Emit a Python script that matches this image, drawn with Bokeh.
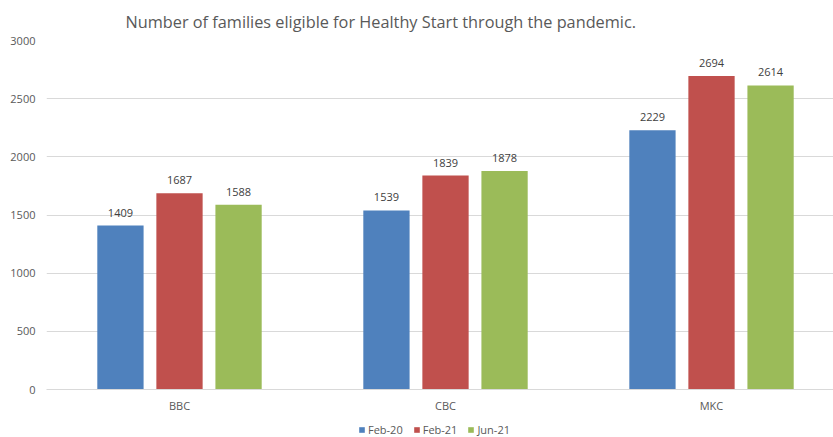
from bokeh.plotting import figure
from bokeh.layouts import column
from bokeh.models import Range1d, FixedTicker, Legend, LegendItem, ColumnDataSource
from bokeh.transform import dodge
from bokeh.embed import file_html
from bokeh.resources import INLINE
from bokeh.core.properties import value

regions = ["BBC", "CBC", "MKC"]
series = ["Feb-20", "Feb-21", "Jun-21"]
feb20 = [1409, 1539, 2229]
feb21 = [1687, 1839, 2694]
jun21 = [1588, 1878, 2614]
colors = ["#4F81BD", "#C0504D", "#9BBB59"]
y_ticks = [0, 500, 1000, 1500, 2000, 2500, 3000]

FONT = "Open Sans"
GREY = "#595959"

xs = list(range(len(regions)))
data = dict(x=xs)
for key, vals in (("s0", feb20), ("s1", feb21), ("s2", jun21)):
    data[key] = vals
    data[key + "_t"] = [str(v) for v in vals]
src = ColumnDataSource(data)

p = figure(width=833, height=423, output_backend="svg", toolbar_location=None,
           x_range=Range1d(-0.5, 2.4586), y_range=Range1d(0, 3000),
           min_border_left=46, min_border_right=0, min_border_top=40, min_border_bottom=34)
p.outline_line_color = None

p.title.text = "Number of families eligible for Healthy Start through the pandemic."
p.title.align = "left"
p.title.offset = 79
p.title.standoff = 16
p.title.text_font = FONT
p.title.text_font_size = "16.3px"
p.title.text_font_style = "normal"
p.title.text_color = GREY

offsets = [-0.222, 0.0, 0.222]
keys = ["s0", "s1", "s2"]
for i, key in enumerate(keys):
    p.vbar(x=dodge("x", offsets[i]), top=key, width=0.174, source=src,
           fill_color=colors[i], line_color=None)
    p.text(x=dodge("x", offsets[i]), y=key, text=key + "_t", source=src,
           text_align="center", text_baseline="bottom", y_offset=-9,
           text_font=value(FONT), text_font_size="11px", text_color="#404040")

p.xgrid.grid_line_color = None
p.ygrid.grid_line_color = "#D9D9D9"
p.ygrid.ticker = FixedTicker(ticks=y_ticks)

for ax in (p.xaxis[0], p.yaxis[0]):
    ax.major_tick_line_color = None
    ax.minor_tick_line_color = None
    ax.major_tick_out = 0
    ax.major_tick_in = 0
    ax.minor_tick_out = 0
    ax.minor_tick_in = 0
    ax.major_label_text_font = FONT
    ax.major_label_text_font_size = "11px"
    ax.major_label_text_color = GREY

p.yaxis.ticker = FixedTicker(ticks=y_ticks)
p.yaxis.axis_line_color = None
p.yaxis.major_label_standoff = 11

p.xaxis.ticker = FixedTicker(ticks=xs)
p.xaxis.major_label_overrides = {i: regions[i] for i in xs}
p.xaxis.axis_line_color = "#D9D9D9"
p.xaxis.major_label_standoff = 8

# legend strip below the chart (its renderers are hidden; only the swatches show)
lg = figure(width=833, height=14, output_backend="svg", toolbar_location=None,
            x_axis_location=None, y_axis_location=None,
            x_range=Range1d(0, 1), y_range=Range1d(0, 1), min_border=0)
lg.outline_line_color = None
lg.grid.grid_line_color = None
items = []
for i, name in enumerate(series):
    rr = lg.vbar(x=dodge("x", offsets[i]), top=keys[i], width=0.174, source=src,
                 fill_color=colors[i], line_color=None, visible=False)
    items.append(LegendItem(label=name, renderers=[rr]))
legend = Legend(items=items, orientation="horizontal", location=(312, 0),
                click_policy="none",
                label_text_font=FONT, label_text_font_size="11px", label_text_color=GREY,
                glyph_width=7, glyph_height=7, label_standoff=3, spacing=10,
                label_height=12, padding=1, margin=0, border_line_color=None,
                background_fill_alpha=0)
lg.add_layout(legend)

open("out.html", "w").write(file_html(column(p, lg, spacing=0), INLINE))
